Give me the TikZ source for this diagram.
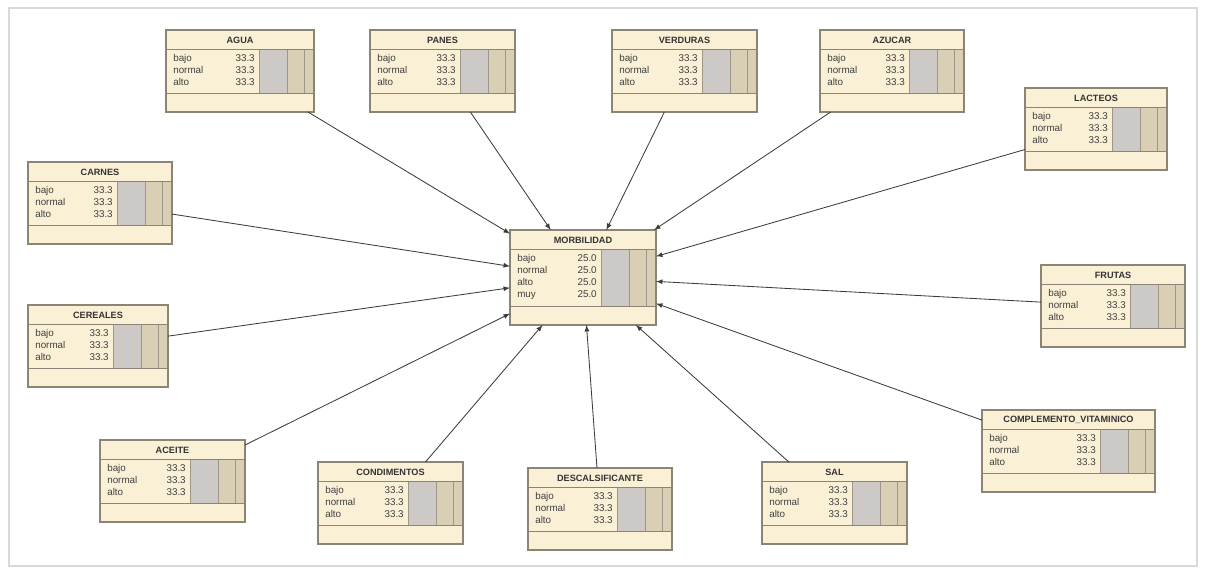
\documentclass[tikz,border=0pt]{standalone}
\usepackage{fontspec}
\setmainfont{Liberation Sans}
\definecolor{boxfill}{HTML}{FAF0D6}
\definecolor{boxline}{HTML}{8C8474}
\definecolor{barleft}{HTML}{CDC9C6}
\definecolor{barright}{HTML}{D8CFB5}
\definecolor{edgecol}{HTML}{3C3C3C}
\tikzset{
  varbox/.style={draw=boxline, fill=boxfill, line width=0.8pt, inner sep=0pt, outer sep=0pt},
  sepline/.style={draw=boxline, line width=0.7pt},
  barline/.style={draw=boxline!85, line width=0.5pt},
  vartitle/.style={font=\fontsize{6.5}{7}\selectfont\bfseries, text=black!80, inner sep=0pt},
  vartext/.style={font=\fontsize{7}{8}\selectfont, text=black!75, inner sep=0pt},
  link/.style={draw=edgecol, line width=0.6pt, -latex},
}
% name, left, top, width, height, title, rows
\newcommand{\varnode}[7]{%
  \node[varbox, minimum width={#4*0.025cm}, minimum height={#5*0.025cm}] (#1) at ({#2+#4/2},{#3+#5/2}) {};
  \edef\rowlist{#7}%
  \begin{scope}[shift={(#2,#3)}]
    \fill[barleft] ({#4-55},19) rectangle ({#4-27},{#5-19});
    \fill[barright] ({#4-27},19) rectangle (#4,{#5-19});
    \draw[barline] ({#4-55},19) -- ({#4-55},{#5-19}) ({#4-27},19) -- ({#4-27},{#5-19}) ({#4-10},19) -- ({#4-10},{#5-19});
    \draw[sepline] (0,19) -- (#4,19) (0,{#5-19}) -- (#4,{#5-19});
    \node[vartitle] at ({#4/2},10) {#6};
    \foreach \lab/\val [count=\i] in \rowlist {
      \node[vartext, anchor=base west] at (7,{20+12*\i}) {\lab};
      \node[vartext, anchor=base east] at ({#4-59},{20+12*\i}) {\val};
    }
    \draw[boxline, line width=0.8pt] (0,0) rectangle (#4,#5);
  \end{scope}}
\newcommand{\threerows}{bajo/33.3, normal/33.3, alto/33.3}

\begin{document}
\begin{tikzpicture}[x=0.025cm, y=-0.025cm]
\useasboundingbox (0,0) rectangle (1205,569);
\draw[draw=black!15, line width=1pt] (9,8) rectangle (1197,566);

\varnode{agua}{166}{30}{148}{82}{AGUA}{\threerows}
\varnode{panes}{370}{30}{145}{82}{PANES}{\threerows}
\varnode{verduras}{612}{30}{145}{82}{VERDURAS}{\threerows}
\varnode{azucar}{820}{30}{144}{82}{AZUCAR}{\threerows}
\varnode{lacteos}{1025}{88}{142}{82}{LACTEOS}{\threerows}
\varnode{carnes}{28}{162}{144}{82}{CARNES}{\threerows}
\varnode{morb}{510}{230}{146}{95}{MORBILIDAD}{bajo/25.0, normal/25.0, alto/25.0, muy/25.0}
\varnode{frutas}{1041}{265}{144}{82}{FRUTAS}{\threerows}
\varnode{cereales}{28}{305}{140}{82}{CEREALES}{\threerows}
\varnode{aceite}{100}{440}{145}{82}{ACEITE}{\threerows}
\varnode{condim}{318}{462}{145}{82}{CONDIMENTOS}{\threerows}
\varnode{descal}{528}{468}{144}{82}{DESCALSIFICANTE}{\threerows}
\varnode{sal}{762}{462}{145}{82}{SAL}{\threerows}
\varnode{complem}{982}{410}{173}{82}{COMPLEMENTO\_VITAMINICO}{\threerows}

\draw[link] (agua) -- (morb);
\draw[link] (panes) -- (morb);
\draw[link] (verduras) -- (morb);
\draw[link] (azucar) -- (morb);
\draw[link] (lacteos) -- (morb);
\draw[link] (carnes) -- (morb);
\draw[link] (frutas) -- (morb);
\draw[link] (cereales) -- (morb);
\draw[link] (aceite) -- (morb);
\draw[link] (condim) -- (morb);
\draw[link] (descal) -- (morb);
\draw[link] (sal) -- (morb);
\draw[link] (complem) -- (morb);
\end{tikzpicture}
\end{document}
